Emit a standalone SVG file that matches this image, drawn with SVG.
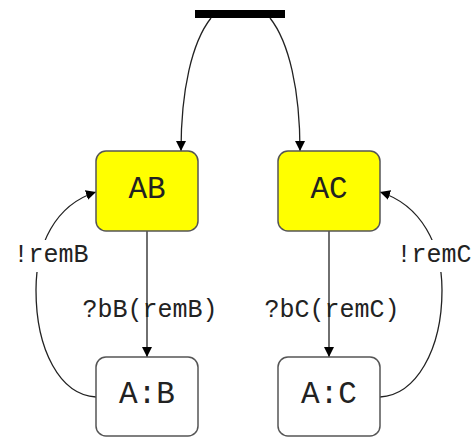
<svg xmlns="http://www.w3.org/2000/svg" width="473" height="437" viewBox="0 0 473 437">
<style>
.node rect{stroke:#555;stroke-width:1.5}
.yel{fill:#ffff00}
.wht{fill:#fff}
.nt{font-family:"Liberation Mono","Courier New",monospace;font-size:31px;fill:#222;text-anchor:middle}
.lt{font-family:"Liberation Mono","Courier New",monospace;font-size:25px;fill:#222;text-anchor:middle}
.edge{fill:none;stroke:#222;stroke-width:1.3}
</style>
<defs>
<marker id="ah" viewBox="0 0 10 10" refX="10" refY="5" markerWidth="10" markerHeight="10" markerUnits="userSpaceOnUse" orient="auto">
<path d="M0,0 L10,5 L0,10 Z" fill="#000"/>
</marker>
</defs>
<rect width="473" height="437" fill="#fff"/>
<g id="init"><rect x="195" y="10" width="90" height="8" fill="#000"/></g>
<g id="edges">
<path class="edge" d="M211,18 C192,42 181,90 181,151" marker-end="url(#ah)"/>
<path class="edge" d="M270,18 C289,42 300,90 300,151" marker-end="url(#ah)"/>
<path class="edge" d="M147,231 L147,357" marker-end="url(#ah)"/>
<path class="edge" d="M329,231 L329,357" marker-end="url(#ah)"/>
<path class="edge" d="M96,397 C60,395 36,350 36,290 C36,245 55,205 96,192" marker-end="url(#ah)"/>
<path class="edge" d="M380,397 C416,395 442,350 442,290 C442,245 421,205 380,192" marker-end="url(#ah)"/>
<rect x="10" y="240" width="82" height="32" fill="#fff"/>
<rect x="392" y="240" width="81" height="32" fill="#fff"/>
<text class="lt" x="51" y="262">!remB</text>
<text class="lt" x="434" y="262">!remC</text>
<text class="lt" x="150" y="317">?bB(remB)</text>
<text class="lt" x="332" y="317">?bC(remC)</text>
</g>
<g id="AB" class="node"><rect class="yel" x="96" y="151" width="102" height="80" rx="10"/><text class="nt" x="147" y="198">AB</text></g>
<g id="AC" class="node"><rect class="yel" x="278" y="151" width="102" height="80" rx="10"/><text class="nt" x="329" y="198">AC</text></g>
<g id="AcolB" class="node"><rect class="wht" x="96" y="357" width="102" height="79" rx="10"/><text class="nt" x="147" y="403">A:B</text></g>
<g id="AcolC" class="node"><rect class="wht" x="278" y="357" width="102" height="79" rx="10"/><text class="nt" x="329" y="403">A:C</text></g>
</svg>
